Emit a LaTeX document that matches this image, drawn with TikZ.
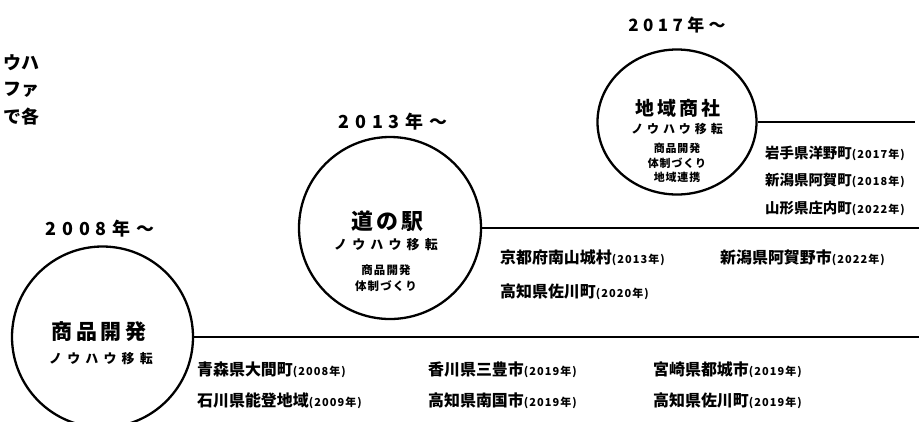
\documentclass[tikz,border=0pt]{standalone}
\usepackage{fontspec}
\setmainfont{Noto Sans CJK JP}
\usetikzlibrary{shapes.geometric}

\newcommand{\yearnote}[1]{{\fontsize{11}{11}\selectfont\addfontfeature{LetterSpace=10}(#1年)}}

\begin{document}
\begin{tikzpicture}[x=1bp,y=-1bp,
  ring/.style={draw,circle,line width=2.3bp,inner sep=0pt},
  bar/.style={line width=2.8bp},
  yearlbl/.style={inner sep=0pt,font=\fontsize{18}{18}\selectfont\bfseries\addfontfeature{LetterSpace=32}},
  title/.style={inner sep=0pt,font=\fontsize{21}{21}\selectfont\bfseries\addfontfeature{LetterSpace=19}},
  knowhow/.style={inner sep=0pt,font=\fontsize{13}{13}\selectfont\bfseries\addfontfeature{LetterSpace=40}},
  detail/.style={inner sep=0pt,font=\fontsize{11.5}{11.5}\selectfont\bfseries\addfontfeature{LetterSpace=10}},
  place/.style={anchor=west,inner sep=0pt,font=\fontsize{16}{16}\selectfont\bfseries},
  frag/.style={anchor=west,inner sep=0pt,font=\fontsize{18}{18}\selectfont\bfseries}]
\clip (0,0) rectangle (919,421);

% cut-off text at the left
\node[frag] (F1) at (3,63) {ウハ};
\node[frag] (F2) at (3,90) {ファ};
\node[frag] (F3) at (3,117) {で各};

% circles
\node[ring,minimum size=181bp] (C1) at (102.5,337) {};
\node[ring,minimum size=182bp] (C2) at (390,228) {};
\node[ring,ellipse,minimum width=159bp,minimum height=145bp] (C3) at (677,122) {};

\coordinate (E1) at (919,337);
\coordinate (E2) at (919,228);
\coordinate (E3) at (915,122);

\draw[bar] (C1.east) -- (E1);
\draw[bar] (C2.east) -- (E2);
\draw[bar] (C3.east) -- (E3);

% years
\node[yearlbl] (Y1) at (100,229) {2008年～};
\node[yearlbl] (Y2) at (393,122) {2013年～};
\node[yearlbl,font=\fontsize{17}{17}\selectfont\bfseries\addfontfeature{LetterSpace=26}] (Y3) at (677,25) {2017年～};

% 2008
\node[title] (T1) at (99,332) {商品開発};
\node[knowhow] (K1) at (101,359) {ノウハウ移転};

% 2013
\node[title,font=\fontsize{22}{22}\selectfont\bfseries\addfontfeature{LetterSpace=14}] (T2) at (387,221) {道の駅};
\node[knowhow] (K2) at (386,245) {ノウハウ移転};
\node[detail] (D21) at (386,270) {商品開発};
\node[detail] (D22) at (386,286) {体制づくり};

% 2017
\node[title,font=\fontsize{19}{19}\selectfont\bfseries\addfontfeature{LetterSpace=15}] (T3) at (678,108) {地域商社};
\node[knowhow,font=\fontsize{12}{12}\selectfont\bfseries\addfontfeature{LetterSpace=33}] (K3) at (677,129) {ノウハウ移転};
\node[detail,font=\fontsize{11}{11}\selectfont\bfseries\addfontfeature{LetterSpace=8}] (D31) at (677,148) {商品開発};
\node[detail,font=\fontsize{11}{11}\selectfont\bfseries\addfontfeature{LetterSpace=8}] (D32) at (677,163) {体制づくり};
\node[detail,font=\fontsize{11}{11}\selectfont\bfseries\addfontfeature{LetterSpace=8}] (D33) at (677,177) {地域連携};

% places along the lines
\node[place] (P11) at (197,370) {青森県大間町\yearnote{2008}};
\node[place] (P12) at (197,401) {石川県能登地域\yearnote{2009}};
\node[place] (P13) at (428,370) {香川県三豊市\yearnote{2019}};
\node[place] (P14) at (428,401) {高知県南国市\yearnote{2019}};
\node[place] (P15) at (653,370) {宮崎県都城市\yearnote{2019}};
\node[place] (P16) at (653,401) {高知県佐川町\yearnote{2019}};

\node[place] (P21) at (500,258) {京都府南山城村\yearnote{2013}};
\node[place] (P22) at (720,258) {新潟県阿賀野市\yearnote{2022}};
\node[place] (P23) at (500,292) {高知県佐川町\yearnote{2020}};

\node[place,font=\fontsize{14.5}{14.5}\selectfont\bfseries] (P31) at (765,153) {岩手県洋野町\yearnote{2017}};
\node[place,font=\fontsize{14.5}{14.5}\selectfont\bfseries] (P32) at (765,180) {新潟県阿賀町\yearnote{2018}};
\node[place,font=\fontsize{14.5}{14.5}\selectfont\bfseries] (P33) at (765,208) {山形県庄内町\yearnote{2022}};
\end{tikzpicture}
\end{document}
